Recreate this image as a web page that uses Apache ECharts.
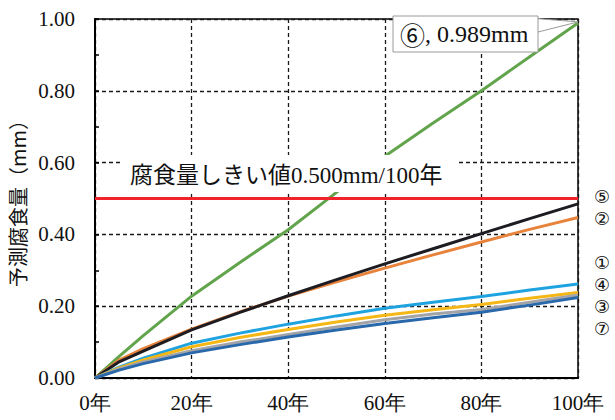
<!DOCTYPE html>
<html>
<head>
<meta charset="utf-8">
<script src="https://cdn.jsdelivr.net/npm/echarts@6.0.0/dist/echarts.min.js"></script>
<style>
  html, body { margin: 0; padding: 0; background: #fff; }
  #chart { width: 615px; height: 420px; }
</style>
</head>
<body>
<div id="chart"></div>
<script>
// 経過年数
var years = [0, 5, 10, 20, 30, 40, 50, 60, 70, 80, 90, 100];
// 予測腐食量 (mm)
var case1 = [0, 0.030, 0.055, 0.097, 0.125, 0.150, 0.173, 0.194, 0.211, 0.227, 0.245, 0.262];
var case2 = [0, 0.050, 0.082, 0.136, 0.184, 0.228, 0.268, 0.306, 0.343, 0.379, 0.414, 0.447];
var case3 = [0, 0.025, 0.045, 0.076, 0.100, 0.121, 0.142, 0.162, 0.178, 0.191, 0.211, 0.231];
var case4 = [0, 0.028, 0.050, 0.087, 0.113, 0.135, 0.156, 0.175, 0.190, 0.205, 0.222, 0.238];
var case5 = [0, 0.045, 0.075, 0.134, 0.183, 0.229, 0.274, 0.318, 0.360, 0.402, 0.444, 0.485];
var case6 = [0, 0.060, 0.118, 0.228, 0.322, 0.413, 0.517, 0.618, 0.710, 0.800, 0.895, 0.989];
var case7 = [0, 0.022, 0.040, 0.070, 0.093, 0.114, 0.134, 0.152, 0.168, 0.183, 0.203, 0.224];
// しきい値
var limitYears = [0, 100];
var limitValue = [0.5, 0.5];
var seriesNames = ['①', '②', '③', '④', '⑤', '⑥', '⑦'];
// 右側の番号（上から、空行あり）
var rightLabels = ['⑤', '②', '', '①', '④', '③', '⑦'];

var serif = 'Liberation Serif, Noto Sans CJK JP, serif';

function pairs(xs, ys) {
  var out = [];
  for (let i = 0; i < xs.length; i++) {
    out.push([xs[i], ys[i]]);
  }
  return out;
}

function lineSeries(name, data, color, z) {
  return {
    name: name,
    type: 'line',
    data: pairs(years, data),
    showSymbol: false,
    z: z,
    lineStyle: { color: color, width: 3 }
  };
}

var myChart = echarts.init(document.getElementById('chart'), null, { renderer: 'svg' });

myChart.setOption({
  animation: false,
  backgroundColor: '#fff',
  textStyle: { fontFamily: serif },
  grid: {
    left: 95,
    right: 37,
    top: 19,
    bottom: 42,
    show: true,
    borderColor: '#000',
    borderWidth: 1.5,
    outerBoundsMode: 'none'
  },
  xAxis: {
    type: 'value',
    min: 0,
    max: 100,
    interval: 20,
    axisLine: { show: true, lineStyle: { color: '#000', width: 2 } },
    axisTick: { show: false },
    axisLabel: {
      formatter: '{value}年',
      color: '#111',
      fontSize: 21,
      fontFamily: 'Liberation Serif',
      margin: 14
    },
    splitLine: { show: true, lineStyle: { color: '#1a1a1a', type: [4, 3], width: 1.3 } }
  },
  yAxis: {
    type: 'value',
    min: 0,
    max: 1,
    interval: 0.2,
    name: '予測腐食量（mm）',
    nameLocation: 'middle',
    nameGap: 68,
    nameTextStyle: {
      fontFamily: 'Noto Sans CJK JP',
      fontSize: 20,
      color: '#111'
    },
    axisLine: { show: true, lineStyle: { color: '#000', width: 2 } },
    axisTick: { show: true, inside: true, length: 4, lineStyle: { color: '#000', width: 1.5 } },
    minorTick: { show: true, splitNumber: 2, length: 4, lineStyle: { color: '#000', width: 1.5 } },
    axisLabel: {
      formatter: function (v) { return v.toFixed(2); },
      color: '#111',
      fontSize: 21,
      fontFamily: 'Liberation Serif',
      margin: 20
    },
    splitLine: { show: true, lineStyle: { color: '#1a1a1a', type: [4, 3], width: 1.3 } }
  },
  series: [
    lineSeries(seriesNames[5], case6, '#62a44c', 3),
    {
      name: 'しきい値',
      type: 'line',
      data: pairs(limitYears, limitValue),
      showSymbol: false,
      z: 4,
      lineStyle: { color: '#f0222b', width: 3 }
    },
    lineSeries(seriesNames[1], case2, '#e8833c', 5),
    lineSeries(seriesNames[4], case5, '#1c1c22', 6),
    lineSeries(seriesNames[0], case1, '#1fa3e0', 7),
    lineSeries(seriesNames[3], case4, '#f4b716', 8),
    lineSeries(seriesNames[2], case3, '#a2a4a8', 9),
    lineSeries(seriesNames[6], case7, '#2868ab', 10)
  ]
});

// 注記（しきい値ラベル・⑥の吹き出し・右側の番号）
var tip = myChart.convertToPixel({ gridIndex: 0 }, [100, case6[case6.length - 1]]);
var graphics = [
  {
    type: 'rect', z: 50,
    shape: { x: 122, y: 155, width: 335, height: 37 },
    style: { fill: '#fff' }
  },
  {
    type: 'text', z: 51, x: 130, y: 175,
    style: {
      text: '腐食量しきい値0.500mm/100年',
      font: '23px Liberation Serif, Noto Sans CJK JP, serif',
      fill: '#111',
      verticalAlign: 'middle'
    }
  },
  {
    type: 'polygon', z: 52,
    shape: { points: [[530, 18], [tip[0], tip[1] - 1], [538, 32]] },
    style: { fill: '#fff', stroke: '#9a9a9a', lineWidth: 1 }
  },
  {
    type: 'rect', z: 53,
    shape: { x: 393, y: 16, width: 145, height: 36 },
    style: { fill: '#fff', stroke: '#9a9a9a', lineWidth: 1 }
  },
  {
    type: 'text', z: 54, x: 400, y: 34,
    style: {
      text: '{c|⑥}, ' + case6[case6.length - 1] + 'mm',
      font: '24px Liberation Serif',
      fill: '#111',
      verticalAlign: 'middle',
      rich: {
        c: { fontFamily: 'Noto Sans CJK JP', fontSize: 25, fill: '#111' }
      }
    }
  },
  {
    type: 'text', z: 60, x: 602, y: 185,
    style: {
      text: rightLabels.join('\n'),
      font: '18px DejaVu Sans',
      lineHeight: 22,
      fill: '#111',
      align: 'center',
      verticalAlign: 'top'
    }
  }
];
myChart.setOption({ graphic: graphics });
</script>
</body>
</html>
